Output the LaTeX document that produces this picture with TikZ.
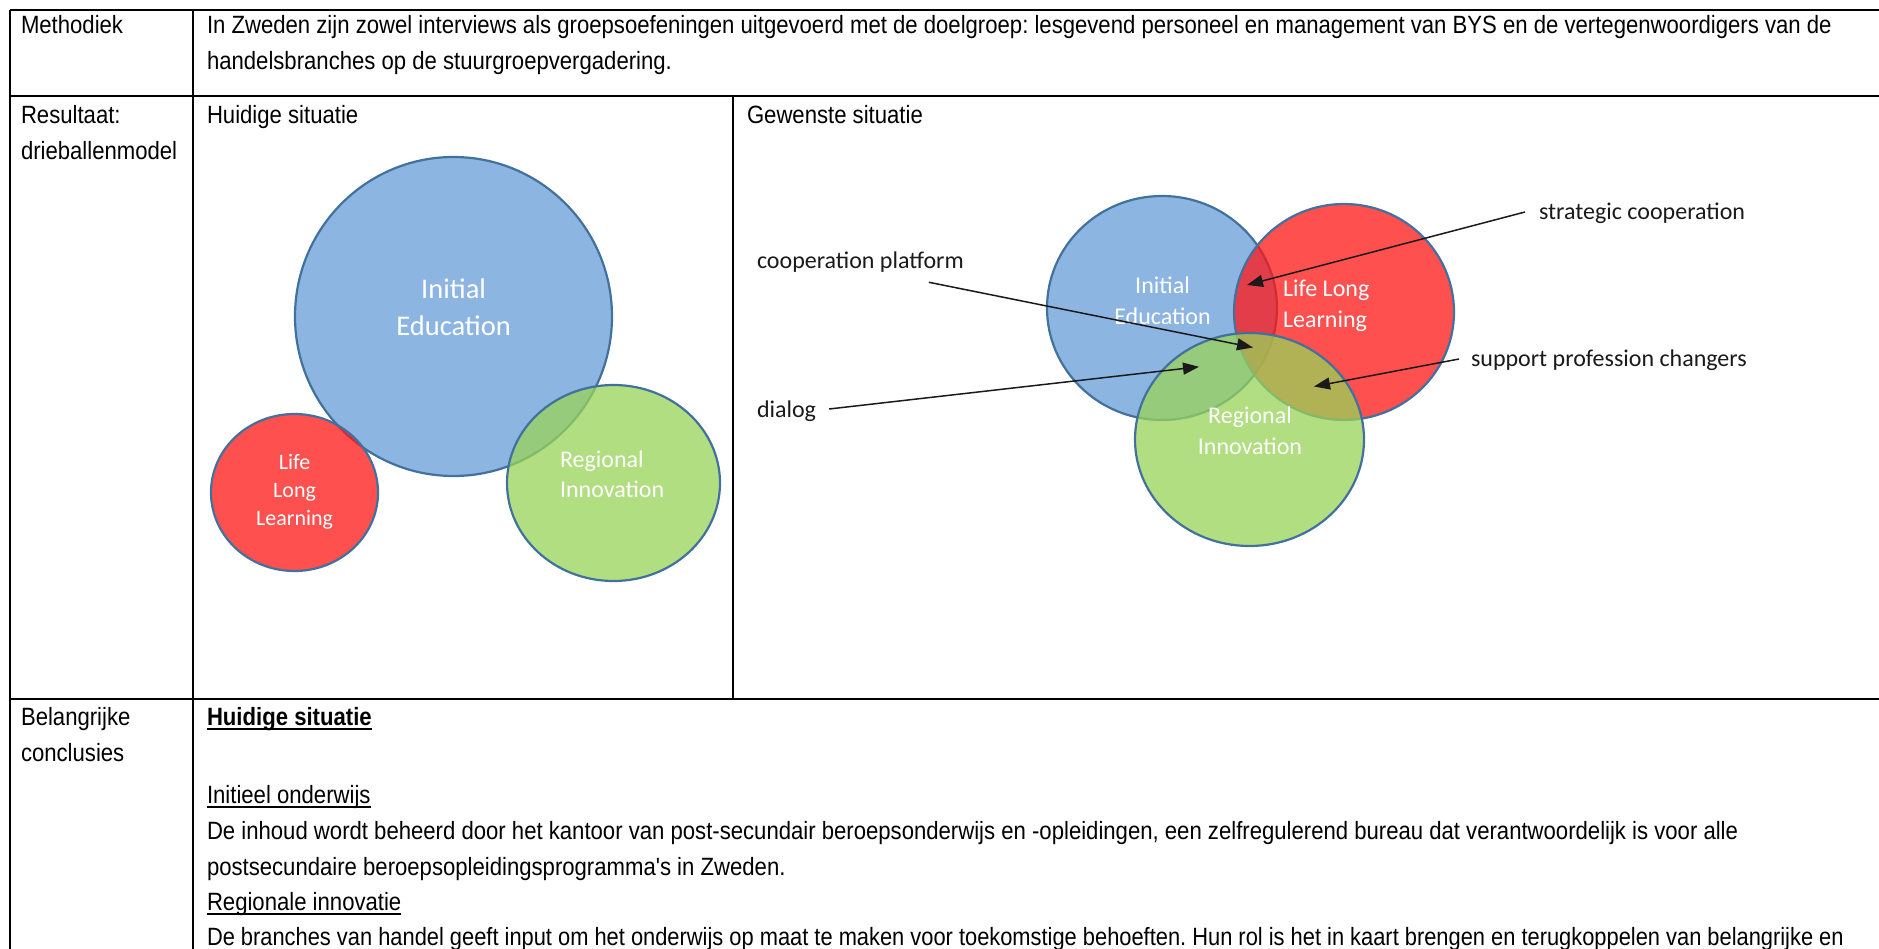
\documentclass[tikz,border=0pt]{standalone}
\usepackage{fontspec}
\setmainfont{Liberation Sans}
\newfontfamily\tabfont[FakeStretch=0.885]{Liberation Sans}
\newfontfamily\calfont{Carlito}
\usetikzlibrary{arrows.meta,calc}

\definecolor{ballblue}{RGB}{141,181,226}
\definecolor{ballred}{RGB}{255,22,22}
\definecolor{ballgreen}{RGB}{152,211,88}
\definecolor{ballline}{RGB}{65,113,156}
\definecolor{inkgray}{RGB}{26,26,26}

\newcommand\myul[1]{\setbox0\hbox{#1}\rlap{\vrule width\wd0 height -2.6pt depth 4.5pt}\box0}

\tikzset{
  tabline/.style={draw=black, line width=2.2pt},
  tabtext/.style={anchor=base west, inner sep=0pt, outer sep=0pt, text=black,
                  font=\tabfont\fontsize{25}{36}\selectfont},
  ballshape/.style={draw=ballline, line width=2.2pt},
  blueball/.style={ballshape, fill=ballblue},
  redball/.style={ballshape, fill=ballred, fill opacity=0.75},
  greenball/.style={ballshape, fill=ballgreen, fill opacity=0.75},
  balltext/.style={text=white, inner sep=0pt, outer sep=0pt},
  calltext/.style={text=inkgray, inner sep=0pt, outer sep=0pt, anchor=west,
                   font=\calfont\fontsize{24}{30}\selectfont},
  callout/.style={draw=inkgray, line width=1.5pt, -{Triangle[length=16pt,width=12pt]}}
}

\begin{document}
\frenchspacing
\begin{tikzpicture}[x=1pt,y=-1pt]
\useasboundingbox (0,0) rectangle (1879,949);
\fill[white] (0,0) rectangle (1879,949);

% ---------- table grid ----------
\draw[tabline] (10,10) -- (1879,10);
\draw[tabline] (10,96) -- (1879,96);
\draw[tabline] (10,699) -- (1879,699);
\draw[tabline] (10,10) -- (10,949);
\draw[tabline] (193,10) -- (193,949);
\draw[tabline] (733,96) -- (733,699);

% ---------- table text ----------
\node[tabtext] (methodiek) at (21,34) {Methodiek};
\node[tabtext] (meth1) at (207,34) {In Zweden zijn zowel interviews als groepsoefeningen uitgevoerd met de doelgroep: lesgevend personeel en management van BYS en de vertegenwoordigers van de};
\node[tabtext] (meth2) at (207,70) {handelsbranches op de stuurgroepvergadering.};

\node[tabtext] (res1) at (21,124) {Resultaat:};
\node[tabtext] (res2) at (21,160) {drieballenmodel};
\node[tabtext] (huidig) at (207,124) {Huidige situatie};
\node[tabtext] (gewenst) at (747,124) {Gewenste situatie};

\node[tabtext] (bel1) at (21,725) {Belangrijke};
\node[tabtext] (bel2) at (21,761) {conclusies};
\node[tabtext] (con1) at (207,725) {\myul{\bfseries Huidige situatie}};
\node[tabtext] (con2) at (207,803) {\myul{Initieel onderwijs}};
\node[tabtext] (con3) at (207,839) {De inhoud wordt beheerd door het kantoor van post-secundair beroepsonderwijs en -opleidingen, een zelfregulerend bureau dat verantwoordelijk is voor alle};
\node[tabtext] (con4) at (207,875) {postsecundaire beroepsopleidingsprogramma's in Zweden.};
\node[tabtext] (con5) at (207,910) {\myul{Regionale innovatie}};
\node[tabtext, transform shape, xscale=0.988] (con6) at (207,945) {De branches van handel geeft input om het onderwijs op maat te maken voor toekomstige behoeften. Hun rol is het in kaart brengen en terugkoppelen van belangrijke en};

% ---------- left panel: current situation ----------
\path[blueball] (453.5,316.5) ellipse [x radius=158.5, y radius=159.5];
\path[redball] (294.5,492.5) ellipse [x radius=83.5, y radius=78.5];
\path[greenball] (613.5,483) ellipse [x radius=106.5, y radius=98];

\node[balltext, align=center, font=\calfont\fontsize{28.5}{37.5}\selectfont] (lIE) at (453.6,307) {Initial\\Education};
\node[balltext, align=center, font=\calfont\fontsize{22}{27.7}\selectfont] (lLLL) at (294.6,492) {Life\\Long\\Learning};
\node[balltext, align=left, anchor=west, font=\calfont\fontsize{24}{29.6}\selectfont] (lRI) at (560,474) {Regional\\Innovation};

% ---------- right panel: desired situation ----------
\path[blueball] (1162,308) ellipse [x radius=115, y radius=112];
\path[redball] (1344,312) ellipse [x radius=110, y radius=108];
\path[greenball] (1249.5,439.5) ellipse [x radius=114.5, y radius=106.5];

\node[balltext, align=center, font=\calfont\fontsize{24}{31.4}\selectfont] (rIE) at (1162.5,300.5) {Initial\\Education};
\node[balltext, align=left, anchor=west, font=\calfont\fontsize{24}{31}\selectfont] (rLLL) at (1283,306) {Life Long\\Learning};
\node[balltext, align=center, font=\calfont\fontsize{24}{31}\selectfont] (rRI) at (1250,431) {Regional\\Innovation};

% callout labels
\node[calltext] (sc) at (1539,213) {strategic cooperation};
\node[calltext] (sup) at (1471,360) {support profession changers};
\node[calltext] (cp) at (757,262) {cooperation platform};
\node[calltext] (dia) at (757,411) {dialog};

% arrow tips
\coordinate (tipSC) at (1247,285);
\coordinate (tipSUP) at (1314,386.5);
\coordinate (tipCP) at (1253,347.5);
\coordinate (tipDIA) at (1199,366.8);

\draw[callout] ($(sc.west)+(-14,-1)$) -- (tipSC);
\draw[callout] ($(sup.west)+(-12,-1)$) -- (tipSUP);
\draw[callout] ($(cp.south east)+(-35,10)$) -- (tipCP);
\draw[callout] ($(dia.east)+(13,-2)$) -- (tipDIA);
\end{tikzpicture}
\end{document}
